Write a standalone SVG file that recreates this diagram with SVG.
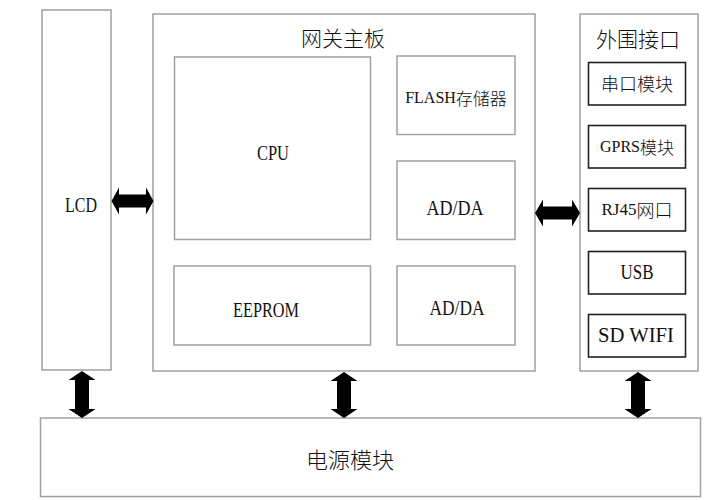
<svg xmlns="http://www.w3.org/2000/svg" width="720" height="500" viewBox="0 0 720 500">
<style>
.box{fill:#fff;stroke:#a0a0a0;stroke-width:1.5}
.sub{fill:#fff;stroke:#222;stroke-width:1.6}
.t{font-family:"Liberation Serif","Noto Sans CJK SC",serif;font-size:21px;fill:#111;text-anchor:middle;dominant-baseline:central}
.c{font-family:"Noto Sans CJK SC","Liberation Serif",sans-serif;font-weight:300;fill:#111;text-anchor:middle;dominant-baseline:central}
.arr{fill:#000}
</style>
<rect width="720" height="500" fill="#fff"/>
<g id="lcd"><rect class="box" x="42" y="10" width="69" height="360"/><text class="t" x="81" y="205" textLength="32" lengthAdjust="spacingAndGlyphs">LCD</text></g>
<g id="mainboard"><rect class="box" x="153" y="14" width="382" height="357"/><text class="c" x="343" y="37" font-size="21">网关主板</text></g>
<g id="cpu"><rect class="box" x="174.5" y="57" width="196" height="182.5"/><text class="t" x="273" y="153" textLength="32" lengthAdjust="spacingAndGlyphs">CPU</text></g>
<g id="flash"><rect class="box" x="397" y="56" width="118" height="78.5"/><text class="t" x="456" y="97" style="font-size:16px">FLASH<tspan class="c" style="font-size:17px">存储器</tspan></text></g>
<g id="adda1"><rect class="box" x="397" y="161" width="118" height="78.5"/><text class="t" x="455" y="208" textLength="57" lengthAdjust="spacingAndGlyphs">AD/DA</text></g>
<g id="eeprom"><rect class="box" x="174" y="266" width="196.5" height="79"/><text class="t" x="266" y="310" textLength="66" lengthAdjust="spacingAndGlyphs">EEPROM</text></g>
<g id="adda2"><rect class="box" x="397" y="266" width="118" height="79"/><text class="t" x="457" y="308" textLength="55" lengthAdjust="spacingAndGlyphs">AD/DA</text></g>
<g id="peripheral"><rect class="box" x="580" y="14" width="118" height="357"/><text class="c" x="638" y="38" font-size="21">外围接口</text></g>
<g id="serial"><rect class="sub" x="588.5" y="62.5" width="97" height="42.5"/><text class="c" x="637" y="83" font-size="18">串口模块</text></g>
<g id="gprs"><rect class="sub" x="588.5" y="125.5" width="97" height="42.5"/><text class="t" x="637" y="146" style="font-size:16px">GPRS<tspan class="c" style="font-size:17px">模块</tspan></text></g>
<g id="rj45"><rect class="sub" x="588.5" y="188.5" width="97" height="42.5"/><text class="t" x="637" y="209" style="font-size:17px">RJ45<tspan class="c" style="font-size:18px">网口</tspan></text></g>
<g id="usb"><rect class="sub" x="588.5" y="251.5" width="97" height="42.5"/><text class="t" x="637" y="272" textLength="33" lengthAdjust="spacingAndGlyphs">USB</text></g>
<g id="sdwifi"><rect class="sub" x="588.5" y="314.5" width="97" height="42.5"/><text class="t" x="636" y="335" textLength="76" lengthAdjust="spacingAndGlyphs">SD WIFI</text></g>
<g id="power"><rect class="box" x="40.5" y="418" width="660" height="78.5"/><text class="c" x="350" y="458" font-size="22">电源模块</text></g>
<g id="connectors" class="arr">
<polygon points="111.5,201 119,187.5 119,194.5 146,194.5 146,187.5 153.5,201 146,214.5 146,207.5 119,207.5 119,214.5"/>
<polygon points="535,213 543,199.5 543,206.5 572,206.5 572,199.5 580,213 572,226.5 572,219.5 543,219.5 543,226.5"/>
<polygon points="82,371 95.5,380 89,380 89,409 95.5,409 82,418 68.5,409 75,409 75,380 68.5,380"/>
<polygon points="344,372 357.5,381 351,381 351,409 357.5,409 344,418 330.5,409 337,409 337,381 330.5,381"/>
<polygon points="638,372 651.5,381 645,381 645,409 651.5,409 638,418 624.5,409 631,409 631,381 624.5,381"/>
</g>
</svg>
